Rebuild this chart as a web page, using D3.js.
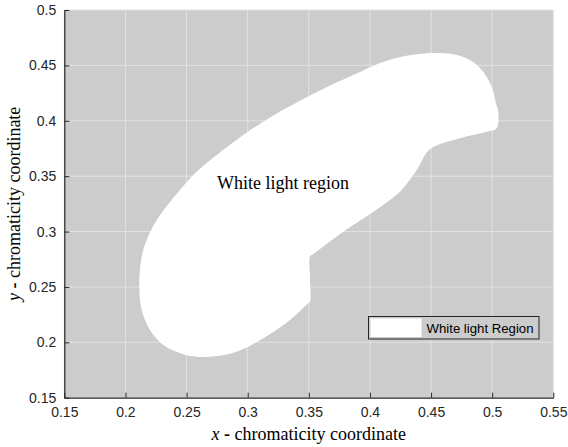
<!DOCTYPE html>
<html>
<head>
<meta charset="utf-8">
<script src="https://cdn.jsdelivr.net/npm/d3@7"></script>
<style>
body{margin:0;background:#fff;}
svg{display:block;}
</style>
</head>
<body>
<div id="chart"></div>
<script>
// region outline, chromaticity (x, y)
const regionX = [0.2113,0.2133,0.2174,0.2256,0.2446,0.2583,0.2747,0.2964,0.3183,0.3401,0.3673,0.3864,0.4137,0.4383,0.4669,0.4819,0.4927,0.4996,0.5031,0.5050,0.5037,0.4955,0.4737,0.4491,0.4383,0.4246,0.4028,0.3782,0.3540,0.3510,0.3510,0.3510,0.3495,0.3346,0.3128,0.2910,0.2747,0.2583,0.2473,0.2310,0.2201,0.2133];
const regionY = [0.2502,0.2773,0.2924,0.3104,0.3375,0.3540,0.3691,0.3872,0.4030,0.4165,0.4318,0.4413,0.4542,0.4600,0.4603,0.4549,0.4443,0.4308,0.4158,0.4082,0.3932,0.3901,0.3842,0.3742,0.3556,0.3360,0.3179,0.2999,0.2800,0.2776,0.2570,0.2367,0.2352,0.2201,0.2036,0.1915,0.1876,0.1870,0.1892,0.1976,0.2111,0.2292];
const xTicks = [0.15,0.2,0.25,0.3,0.35,0.4,0.45,0.5,0.55];
const yTicks = [0.15,0.2,0.25,0.3,0.35,0.4,0.45,0.5];
const labelPos = [0.275, 0.344];

const W = 568, H = 447;
const m = {t:10, l:64.3, r:14.7, b:49.3};
const w = W - m.l - m.r, h = H - m.t - m.b;

const svg = d3.select('#chart').append('svg').attr('width',W).attr('height',H);
const g = svg.append('g').attr('transform',`translate(${m.l},${m.t})`);

const x = d3.scaleLinear().domain([0.15,0.55]).range([0,w]);
const y = d3.scaleLinear().domain([0.15,0.5]).range([h,0]);

g.append('rect').attr('width',w).attr('height',h).style('fill','#cccccc');

// grid
g.selectAll('.gx').data(xTicks).enter().append('line')
	.attr('x1',d=>x(d)).attr('x2',d=>x(d)).attr('y1',0).attr('y2',h)
	.style('stroke','#e2e2e2').style('stroke-width','1px');
g.selectAll('.gy').data(yTicks).enter().append('line')
	.attr('y1',d=>y(d)).attr('y2',d=>y(d)).attr('x1',0).attr('x2',w)
	.style('stroke','#e2e2e2').style('stroke-width','1px');

// region
const pts = regionX.map((v,i)=>[x(v),y(regionY[i])]);
g.append('path')
	.attr('d',d3.line().curve(d3.curveCatmullRomClosed.alpha(0.5))(pts))
	.style('fill','#ffffff').style('stroke','none');

g.append('text')
	.attr('x',x(labelPos[0])).attr('y',y(labelPos[1]))
	.attr('dy','0.35em')
	.style('font-family','"Liberation Serif","DejaVu Serif",serif')
	.style('font-size','18px').style('fill','#000')
	.text('White light region');

// axes
const fmt = d=>String(+d.toFixed(2));
const xAxis = g.append('g').attr('transform',`translate(0,${h})`)
	.call(d3.axisBottom(x).tickValues(xTicks).tickFormat(fmt).tickSizeInner(-5).tickSizeOuter(0).tickPadding(9));
const yAxis = g.append('g')
	.call(d3.axisLeft(y).tickValues(yTicks).tickFormat(fmt).tickSizeInner(-5).tickSizeOuter(0).tickPadding(8));
[xAxis,yAxis].forEach(a=>{
	a.select('.domain').style('stroke','#262626').style('stroke-width','1.2px');
	a.selectAll('.tick line').style('stroke','#262626');
	a.selectAll('.tick text').style('fill','#262626')
		.style('font-family','"Liberation Sans",Arial,sans-serif').style('font-size','14px');
});

// axis labels
const lab = svg.append('g')
	.style('font-family','"Liberation Serif","DejaVu Serif",serif')
	.style('font-size','18px').style('fill','#000');
const xl = lab.append('text').attr('x',m.l+w/2).attr('y',440).attr('text-anchor','middle');
xl.append('tspan').style('font-style','italic').text('x');
xl.append('tspan').style('font-weight','bold').text(' - ');
xl.append('tspan').text('chromaticity coordinate');
const yl = lab.append('text').attr('transform',`translate(20,${m.t+h/2}) rotate(-90)`).attr('text-anchor','middle');
yl.append('tspan').style('font-style','italic').text('y');
yl.append('tspan').style('font-weight','bold').text(' - ');
yl.append('tspan').text('chromaticity coordinate');

// legend
const lg = svg.append('g').attr('transform','translate(368.5,316.5)');
lg.append('rect').attr('width',170.5).attr('height',22.5)
	.style('fill','#cccccc').style('stroke','#262626').style('stroke-width','1px');
lg.append('rect').attr('x',2).attr('y',2).attr('width',51).attr('height',18.5).style('fill','#fff');
lg.append('text').attr('x',58).attr('y',11.5).attr('dy','0.35em')
	.style('font-family','"Liberation Sans",Arial,sans-serif').style('font-size','13.2px').style('fill','#000')
	.text('White light Region');
</script>
</body>
</html>
